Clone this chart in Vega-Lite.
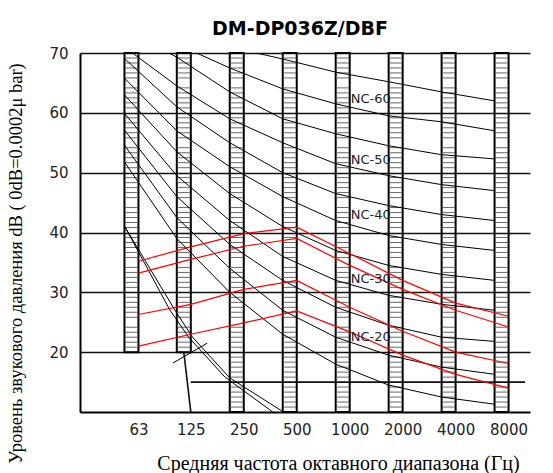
{
  "$schema": "https://vega.github.io/schema/vega-lite/v6.json",
  "width": 450,
  "height": 359,
  "autosize": "none",
  "padding": {"left": 80, "top": 53, "right": 23, "bottom": 61},
  "background": "white",
  "title": {"text": "DM-DP036Z/DBF", "font": "DejaVu Sans", "fontSize": 19, "fontWeight": "bold", "color": "black", "anchor": "middle", "frame": "group", "dx": -5, "offset": -12, "baseline": "bottom"},
  "config": {"view": {"stroke": null}},
  "layer": [
    {
      "data": {"values": [
        {"f": 63, "top": 70, "bot": 20}, {"f": 125, "top": 70, "bot": 20},
        {"f": 250, "top": 70, "bot": 10}, {"f": 500, "top": 70, "bot": 10},
        {"f": 1000, "top": 70, "bot": 10}, {"f": 2000, "top": 70, "bot": 10},
        {"f": 4000, "top": 70, "bot": 10}, {"f": 8000, "top": 70, "bot": 10}
      ]},
      "mark": {"type": "bar", "orient": "vertical", "size": 14, "fill": "transparent", "stroke": "black", "strokeWidth": 2},
      "encoding": {
        "x": {"field": "f", "type": "quantitative",
          "scale": {"type": "log", "base": 2, "domain": [34.3, 10870], "nice": false},
          "axis": {"values": [63, 125, 250, 500, 1000, 2000, 4000, 8000], "format": "d", "ticks": false, "grid": false,
            "domainColor": "black", "domainWidth": 2, "labelFont": "DejaVu Sans", "labelFontSize": 15, "labelColor": "#222",
            "labelPadding": 10, "labelOffset": 7,
            "title": "Средняя частота  октавного диапазона (Гц)", "titleFont": "Liberation Serif", "titleFontSize": 20,
            "titleFontWeight": "normal", "titleColor": "black", "titleX": 258, "titleY": 51, "titleBaseline": "middle", "titleAlign": "center"}},
        "y": {"field": "top", "type": "quantitative",
          "scale": {"domain": [10, 70], "zero": false, "nice": false},
          "axis": {"values": [20, 25, 30, 35, 40, 45, 50, 55, 60, 65, 70], "labelExpr": "datum.value % 10 === 0 ? datum.label : ''",
            "ticks": false, "grid": true, "gridColor": "#111", "gridWidth": 1.6, "gridOpacity": 1,
            "domainColor": "black", "domainWidth": 2, "labelFont": "DejaVu Sans", "labelFontSize": 15, "labelColor": "#222", "labelPadding": 12,
            "title": "Уровень звукового давления dB ( 0dB=0.0002μ bar)", "titleFont": "Liberation Serif", "titleFontSize": 18.5,
            "titleFontWeight": "normal", "titleColor": "black", "titleX": -65, "titleY": 210, "titleAngle": 270,
            "titleBaseline": "middle", "titleAlign": "center"}},
        "y2": {"field": "bot"}
      }
    },
    {
      "data": {"values": [
        {"y": 20.83, "fs": [63,125,250,500,1000,2000,4000,8000]}, {"y": 21.67, "fs": [63,125,250,500,1000,2000,4000,8000]},
        {"y": 22.5, "fs": [63,125,250,500,1000,2000,4000,8000]}, {"y": 23.33, "fs": [63,125,250,500,1000,2000,4000,8000]},
        {"y": 24.17, "fs": [63,125,250,500,1000,2000,4000,8000]}, {"y": 25.83, "fs": [63,125,250,500,1000,2000,4000,8000]},
        {"y": 26.67, "fs": [63,125,250,500,1000,2000,4000,8000]}, {"y": 27.5, "fs": [63,125,250,500,1000,2000,4000,8000]},
        {"y": 28.33, "fs": [63,125,250,500,1000,2000,4000,8000]}, {"y": 29.17, "fs": [63,125,250,500,1000,2000,4000,8000]},
        {"y": 30.83, "fs": [63,125,250,500,1000,2000,4000,8000]}, {"y": 31.67, "fs": [63,125,250,500,1000,2000,4000,8000]},
        {"y": 32.5, "fs": [63,125,250,500,1000,2000,4000,8000]}, {"y": 33.33, "fs": [63,125,250,500,1000,2000,4000,8000]},
        {"y": 34.17, "fs": [63,125,250,500,1000,2000,4000,8000]}, {"y": 35.83, "fs": [63,125,250,500,1000,2000,4000,8000]},
        {"y": 36.67, "fs": [63,125,250,500,1000,2000,4000,8000]}, {"y": 37.5, "fs": [63,125,250,500,1000,2000,4000,8000]},
        {"y": 38.33, "fs": [63,125,250,500,1000,2000,4000,8000]}, {"y": 39.17, "fs": [63,125,250,500,1000,2000,4000,8000]},
        {"y": 40.83, "fs": [63,125,250,500,1000,2000,4000,8000]}, {"y": 41.67, "fs": [63,125,250,500,1000,2000,4000,8000]},
        {"y": 42.5, "fs": [63,125,250,500,1000,2000,4000,8000]}, {"y": 43.33, "fs": [63,125,250,500,1000,2000,4000,8000]},
        {"y": 44.17, "fs": [63,125,250,500,1000,2000,4000,8000]}, {"y": 45.83, "fs": [63,125,250,500,1000,2000,4000,8000]},
        {"y": 46.67, "fs": [63,125,250,500,1000,2000,4000,8000]}, {"y": 47.5, "fs": [63,125,250,500,1000,2000,4000,8000]},
        {"y": 48.33, "fs": [63,125,250,500,1000,2000,4000,8000]}, {"y": 49.17, "fs": [63,125,250,500,1000,2000,4000,8000]},
        {"y": 50.83, "fs": [63,125,250,500,1000,2000,4000,8000]}, {"y": 51.67, "fs": [63,125,250,500,1000,2000,4000,8000]},
        {"y": 52.5, "fs": [63,125,250,500,1000,2000,4000,8000]}, {"y": 53.33, "fs": [63,125,250,500,1000,2000,4000,8000]},
        {"y": 54.17, "fs": [63,125,250,500,1000,2000,4000,8000]}, {"y": 55.83, "fs": [63,125,250,500,1000,2000,4000,8000]},
        {"y": 56.67, "fs": [63,125,250,500,1000,2000,4000,8000]}, {"y": 57.5, "fs": [63,125,250,500,1000,2000,4000,8000]},
        {"y": 58.33, "fs": [63,125,250,500,1000,2000,4000,8000]}, {"y": 59.17, "fs": [63,125,250,500,1000,2000,4000,8000]},
        {"y": 60.83, "fs": [63,125,250,500,1000,2000,4000,8000]}, {"y": 61.67, "fs": [63,125,250,500,1000,2000,4000,8000]},
        {"y": 62.5, "fs": [63,125,250,500,1000,2000,4000,8000]}, {"y": 63.33, "fs": [63,125,250,500,1000,2000,4000,8000]},
        {"y": 64.17, "fs": [63,125,250,500,1000,2000,4000,8000]}, {"y": 65.83, "fs": [63,125,250,500,1000,2000,4000,8000]},
        {"y": 66.67, "fs": [63,125,250,500,1000,2000,4000,8000]}, {"y": 67.5, "fs": [63,125,250,500,1000,2000,4000,8000]},
        {"y": 68.33, "fs": [63,125,250,500,1000,2000,4000,8000]}, {"y": 69.17, "fs": [63,125,250,500,1000,2000,4000,8000]},
        {"y": 10.83, "fs": [250,500,1000,2000,4000,8000]}, {"y": 11.67, "fs": [250,500,1000,2000,4000,8000]},
        {"y": 12.5, "fs": [250,500,1000,2000,4000,8000]}, {"y": 13.33, "fs": [250,500,1000,2000,4000,8000]},
        {"y": 14.17, "fs": [250,500,1000,2000,4000,8000]}, {"y": 15.83, "fs": [250,500,1000,2000,4000,8000]},
        {"y": 16.67, "fs": [250,500,1000,2000,4000,8000]}, {"y": 17.5, "fs": [250,500,1000,2000,4000,8000]},
        {"y": 18.33, "fs": [250,500,1000,2000,4000,8000]}, {"y": 19.17, "fs": [250,500,1000,2000,4000,8000]}
      ]},
      "transform": [{"flatten": ["fs"]}],
      "mark": {"type": "tick", "orient": "horizontal", "size": 13, "thickness": 1, "color": "#666", "opacity": 1},
      "encoding": {
        "x": {"field": "fs", "type": "quantitative"},
        "y": {"field": "y", "type": "quantitative"}
      }
    },
    {
      "data": {"values": [
        {"f1": 125, "f2": 10870, "y1": 15, "y2": 15},
        {"f1": 125, "f2": 125, "y1": 10, "y2": 20}
      ]},
      "mark": {"type": "rule", "color": "#111", "strokeWidth": 1.6, "xOffset": 7, "clip": true},
      "encoding": {
        "x": {"field": "f1", "type": "quantitative"},
        "x2": {"field": "f2"},
        "y": {"field": "y1", "type": "quantitative"},
        "y2": {"field": "y2"}
      }
    },
    {
      "data": {"values": [
        {"n": "65", "f": 63, "v": 80}, {"n": "65", "f": 125, "v": 75}, {"n": "65", "f": 250, "v": 71}, {"n": "65", "f": 500, "v": 69}, {"n": "65", "f": 1000, "v": 66.8}, {"n": "65", "f": 2000, "v": 65.2}, {"n": "65", "f": 4000, "v": 63.5}, {"n": "65", "f": 8000, "v": 62},
        {"n": "60", "f": 63, "v": 77}, {"n": "60", "f": 125, "v": 71.5}, {"n": "60", "f": 250, "v": 67.5}, {"n": "60", "f": 500, "v": 64}, {"n": "60", "f": 1000, "v": 61.5}, {"n": "60", "f": 2000, "v": 59.5}, {"n": "60", "f": 4000, "v": 58.5}, {"n": "60", "f": 8000, "v": 57},
        {"n": "55", "f": 63, "v": 74}, {"n": "55", "f": 125, "v": 69.3}, {"n": "55", "f": 250, "v": 63.5}, {"n": "55", "f": 500, "v": 59}, {"n": "55", "f": 1000, "v": 56.5}, {"n": "55", "f": 2000, "v": 54.5}, {"n": "55", "f": 4000, "v": 53}, {"n": "55", "f": 8000, "v": 52.3},
        {"n": "50", "f": 63, "v": 71}, {"n": "50", "f": 125, "v": 64.5}, {"n": "50", "f": 250, "v": 59}, {"n": "50", "f": 500, "v": 55}, {"n": "50", "f": 1000, "v": 51.5}, {"n": "50", "f": 2000, "v": 49.5}, {"n": "50", "f": 4000, "v": 48}, {"n": "50", "f": 8000, "v": 47},
        {"n": "45", "f": 63, "v": 69.1}, {"n": "45", "f": 125, "v": 61}, {"n": "45", "f": 250, "v": 55}, {"n": "45", "f": 500, "v": 50}, {"n": "45", "f": 1000, "v": 46.5}, {"n": "45", "f": 2000, "v": 44.5}, {"n": "45", "f": 4000, "v": 43}, {"n": "45", "f": 8000, "v": 42},
        {"n": "40", "f": 63, "v": 65.8}, {"n": "40", "f": 125, "v": 57}, {"n": "40", "f": 250, "v": 51}, {"n": "40", "f": 500, "v": 46}, {"n": "40", "f": 1000, "v": 42}, {"n": "40", "f": 2000, "v": 39.5}, {"n": "40", "f": 4000, "v": 38}, {"n": "40", "f": 8000, "v": 37},
        {"n": "35", "f": 63, "v": 63}, {"n": "35", "f": 125, "v": 53.5}, {"n": "35", "f": 250, "v": 46.5}, {"n": "35", "f": 500, "v": 41}, {"n": "35", "f": 1000, "v": 37}, {"n": "35", "f": 2000, "v": 34.5}, {"n": "35", "f": 4000, "v": 33}, {"n": "35", "f": 8000, "v": 32},
        {"n": "30", "f": 63, "v": 59.9}, {"n": "30", "f": 125, "v": 49.5}, {"n": "30", "f": 250, "v": 42}, {"n": "30", "f": 500, "v": 36}, {"n": "30", "f": 1000, "v": 32}, {"n": "30", "f": 2000, "v": 29.5}, {"n": "30", "f": 4000, "v": 28}, {"n": "30", "f": 8000, "v": 27},
        {"n": "25", "f": 63, "v": 57.1}, {"n": "25", "f": 125, "v": 46}, {"n": "25", "f": 250, "v": 38}, {"n": "25", "f": 500, "v": 32}, {"n": "25", "f": 1000, "v": 27.5}, {"n": "25", "f": 2000, "v": 24.5}, {"n": "25", "f": 4000, "v": 22.5}, {"n": "25", "f": 8000, "v": 21.8},
        {"n": "20", "f": 63, "v": 54.6}, {"n": "20", "f": 125, "v": 42.5}, {"n": "20", "f": 250, "v": 34}, {"n": "20", "f": 500, "v": 27}, {"n": "20", "f": 1000, "v": 22.5}, {"n": "20", "f": 2000, "v": 19.5}, {"n": "20", "f": 4000, "v": 17.5}, {"n": "20", "f": 8000, "v": 16.3},
        {"n": "15", "f": 63, "v": 51.8}, {"n": "15", "f": 125, "v": 39}, {"n": "15", "f": 250, "v": 30}, {"n": "15", "f": 500, "v": 23}, {"n": "15", "f": 1000, "v": 18}, {"n": "15", "f": 2000, "v": 14.5}, {"n": "15", "f": 4000, "v": 12.5}, {"n": "15", "f": 8000, "v": 11.3}
      ]},
      "mark": {"type": "line", "color": "black", "strokeWidth": 1, "xOffset": -7, "clip": true},
      "encoding": {
        "x": {"field": "f", "type": "quantitative"},
        "y": {"field": "v", "type": "quantitative"},
        "detail": {"field": "n"}
      }
    },
    {
      "data": {"values": [
        {"n": "a", "f": 57.96, "v": 40.9}, {"n": "a", "f": 111.4, "v": 27.0}, {"n": "a", "f": 140.2, "v": 22.5}, {"n": "a", "f": 228.0, "v": 15.7}, {"n": "a", "f": 460.8, "v": 10.0},
        {"n": "b", "f": 57.96, "v": 40.9}, {"n": "b", "f": 104.4, "v": 27.0}, {"n": "b", "f": 133.2, "v": 22.5}, {"n": "b", "f": 213.8, "v": 15.85}, {"n": "b", "f": 400.3, "v": 10.0},
        {"n": "s", "f": 108.5, "v": 18.2}, {"n": "s", "f": 169.8, "v": 21.5}
      ]},
      "mark": {"type": "line", "color": "black", "strokeWidth": 1, "clip": true},
      "encoding": {
        "x": {"field": "f", "type": "quantitative"},
        "y": {"field": "v", "type": "quantitative"},
        "detail": {"field": "n"}
      }
    },
    {
      "data": {"values": [
        {"n": "A", "f": 63, "v": 35.2}, {"n": "A", "f": 125, "v": 37.6}, {"n": "A", "f": 250, "v": 39.8}, {"n": "A", "f": 500, "v": 40.9}, {"n": "A", "f": 1000, "v": 36.5}, {"n": "A", "f": 2000, "v": 32}, {"n": "A", "f": 4000, "v": 28.2}, {"n": "A", "f": 8000, "v": 26.0},
        {"n": "B", "f": 63, "v": 33.2}, {"n": "B", "f": 125, "v": 35.5}, {"n": "B", "f": 250, "v": 37.7}, {"n": "B", "f": 500, "v": 39.0}, {"n": "B", "f": 1000, "v": 34.5}, {"n": "B", "f": 2000, "v": 30.5}, {"n": "B", "f": 4000, "v": 27}, {"n": "B", "f": 8000, "v": 24.2},
        {"n": "C", "f": 63, "v": 26.3}, {"n": "C", "f": 125, "v": 28}, {"n": "C", "f": 250, "v": 30.5}, {"n": "C", "f": 500, "v": 32}, {"n": "C", "f": 1000, "v": 27.5}, {"n": "C", "f": 2000, "v": 23.5}, {"n": "C", "f": 4000, "v": 20}, {"n": "C", "f": 8000, "v": 18.1},
        {"n": "D", "f": 63, "v": 21.0}, {"n": "D", "f": 125, "v": 23.0}, {"n": "D", "f": 250, "v": 24.9}, {"n": "D", "f": 500, "v": 26.9}, {"n": "D", "f": 1000, "v": 23.4}, {"n": "D", "f": 2000, "v": 19.5}, {"n": "D", "f": 4000, "v": 16.3}, {"n": "D", "f": 8000, "v": 14.0}
      ]},
      "mark": {"type": "line", "color": "#ff0000", "strokeWidth": 1.2, "xOffset": 7, "clip": true},
      "encoding": {
        "x": {"field": "f", "type": "quantitative"},
        "y": {"field": "v", "type": "quantitative"},
        "detail": {"field": "n"}
      }
    },
    {
      "data": {"values": [
        {"t": "NC-60", "f": 1000, "v": 62.3}, {"t": "NC-50", "f": 1000, "v": 52.1}, {"t": "NC-40", "f": 1000, "v": 42.9},
        {"t": "NC-30", "f": 1000, "v": 32.2}, {"t": "NC-20", "f": 1000, "v": 22.5}
      ]},
      "mark": {"type": "text", "align": "left", "baseline": "middle", "dx": 8, "font": "DejaVu Sans", "fontSize": 13, "color": "#222"},
      "encoding": {
        "x": {"field": "f", "type": "quantitative"},
        "y": {"field": "v", "type": "quantitative"},
        "text": {"field": "t"}
      }
    }
  ]
}
